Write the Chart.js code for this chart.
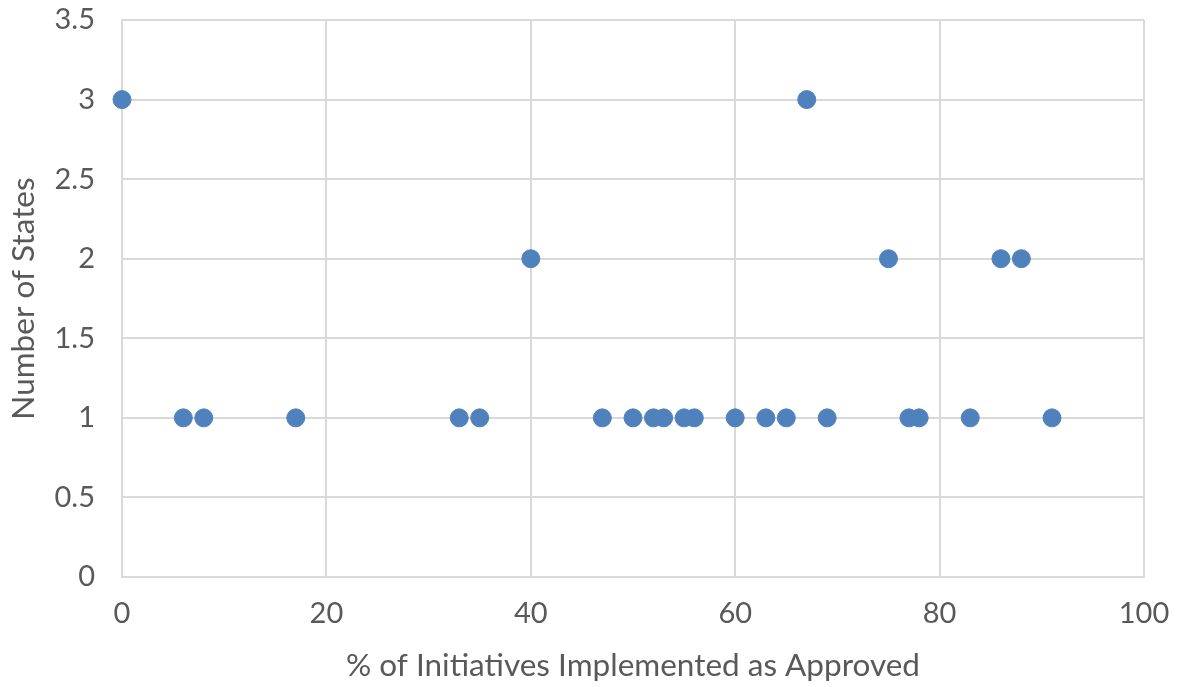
<!DOCTYPE html>
<html>
<head>
    <title>Initiatives Implemented</title>
    <script src="https://cdn.jsdelivr.net/npm/chart.js"></script>
    <style>
        body { margin: 0; background: #fff; }
    </style>
</head>
<body>
    <canvas id="scatterChart" width="1179" height="687"></canvas>
    <script>
        // % of initiatives implemented as approved, and number of states at that value
        const pctImplemented = [0, 6, 8, 17, 33, 35, 40, 47, 50, 52, 53, 55, 56, 60, 63, 65, 67, 69, 75, 77, 78, 83, 86, 88, 91];
        const numStates      = [3, 1, 1, 1,  1,  1,  2,  1,  1,  1,  1,  1,  1,  1,  1,  1,  3,  1,  2,  1,  1,  1,  2,  2,  1];

        const points = pctImplemented.map((x, i) => ({ x: x, y: numStates[i] }));

        const textColor = '#595959';
        const gridColor = '#d9d9d9';
        const tickFont = { family: 'Lato', size: 29 };
        const titleFont = { family: 'Lato', size: 31.5 };

        const ctx = document.getElementById('scatterChart').getContext('2d');
        new Chart(ctx, {
            type: 'scatter',
            data: {
                datasets: [{
                    label: 'Number of States',
                    data: points,
                    backgroundColor: '#4f81bd',
                    borderColor: '#4f81bd',
                    pointRadius: 9,
                    pointHoverRadius: 9,
                    clip: false,
                }],
            },
            options: {
                responsive: false,
                animation: false,
                layout: { padding: { top: 20, right: 35, bottom: 0, left: 0 } },
                plugins: {
                    legend: { display: false },
                    tooltip: { enabled: false },
                },
                scales: {
                    x: {
                        type: 'linear',
                        min: 0,
                        max: 100,
                        ticks: { stepSize: 20, color: textColor, font: tickFont, padding: 19 },
                        grid: { color: gridColor, lineWidth: 2, drawTicks: false },
                        border: { color: gridColor, width: 2 },
                        title: {
                            display: true,
                            text: '% of Initiatives Implemented as Approved',
                            color: textColor,
                            font: titleFont,
                            padding: { top: 0, bottom: 2 },
                        },
                        afterFit: function(scale) {
                            scale.height = 110;
                            scale.paddingLeft = 0;
                            scale.paddingRight = 0;
                        },
                    },
                    y: {
                        min: 0,
                        max: 3.5,
                        ticks: {
                            stepSize: 0.5,
                            color: textColor,
                            font: tickFont,
                            padding: 27,
                            callback: function(value) { return String(value); },
                        },
                        grid: { color: gridColor, lineWidth: 2, drawTicks: false },
                        border: { color: gridColor, width: 2 },
                        title: {
                            display: true,
                            text: 'Number of States',
                            color: textColor,
                            font: titleFont,
                            padding: { top: 5, bottom: 0 },
                        },
                        afterFit: function(scale) {
                            scale.width = 122;
                            scale.paddingTop = 0;
                            scale.paddingBottom = 0;
                        },
                    },
                },
            },
        });
    </script>
</body>
</html>
